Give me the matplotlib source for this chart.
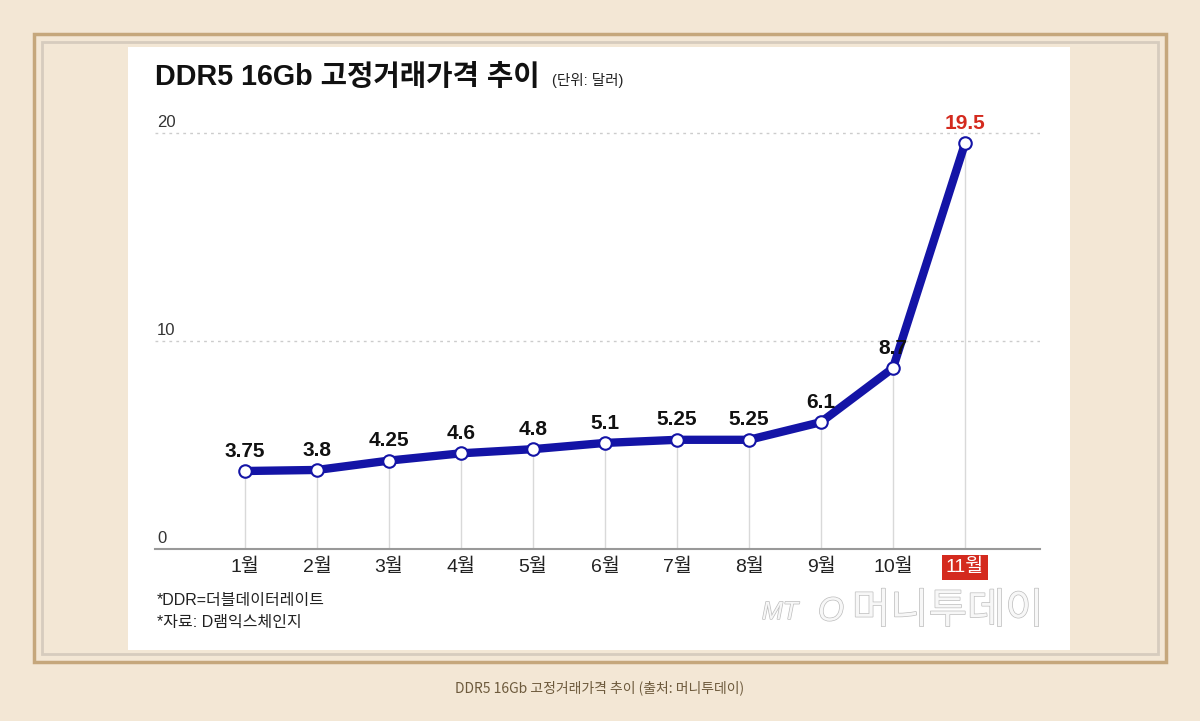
import matplotlib
matplotlib.use('Agg')
import matplotlib.pyplot as plt
import matplotlib.patheffects as pe
from matplotlib.patches import Rectangle

plt.rcParams['font.family'] = ['Liberation Sans', 'Noto Sans CJK KR', 'DejaVu Sans']

#------------------------------------------------------------------------------
# data

months = ['1월', '2월', '3월', '4월', '5월', '6월', '7월', '8월', '9월', '10월', '11월']
prices = [3.75, 3.8, 4.25, 4.6, 4.8, 5.1, 5.25, 5.25, 6.1, 8.7, 19.5]
price_labels = ['3.75', '3.8', '4.25', '4.6', '4.8', '5.1', '5.25', '5.25', '6.1', '8.7', '19.5']
yticks = [0, 10, 20]

#------------------------------------------------------------------------------
# figure and frame

W, H = 1200, 721
bg = '#f3e7d5'
fig = plt.figure(figsize=(W / 100, H / 100), dpi=100, facecolor=bg)

def px(x, y, w, h):
    # pixel box (top-left origin) -> figure coords
    return [x / W, 1 - (y + h) / H, w / W, h / H]

frame = fig.add_axes([0, 0, 1, 1])
frame.set_xlim(0, W)
frame.set_ylim(H, 0)
frame.axis('off')
frame.add_patch(Rectangle((34, 34), 1132, 628, fill=False, ec='#c5a77c', lw=2.5))
frame.add_patch(Rectangle((42, 42), 1116, 612, fill=False, ec='#d6ccbe', lw=2))
frame.add_patch(Rectangle((128, 47), 942, 603, fc='white', ec='none'))

# title and notes
frame.text(155, 77, 'DDR5 16Gb 고정거래가격 추이', fontsize=20.7, fontweight='bold',
           va='center', ha='left', color='#111111')
frame.text(552, 80, '(단위: 달러)', fontsize=10.5, va='center', ha='left', color='#222222')
frame.text(157, 601, '*DDR=더블데이터레이트', fontsize=11.5, va='center', ha='left', color='#222222')
frame.text(157, 623, '*자료: D램익스체인지', fontsize=11.5, va='center', ha='left', color='#222222')

# watermark
wm = dict(color='#f7f7f7', va='center',
          path_effects=[pe.withStroke(linewidth=1.0, foreground='#bdbdbd')])
frame.text(762, 612, 'MT', fontsize=18, style='italic', ha='left', **wm)
frame.text(818, 612, 'O', fontsize=24, style='italic', ha='left', **wm)
frame.text(852, 612, '머니투데이', fontsize=30, ha='left', **wm)

# caption
frame.text(600, 688, 'DDR5 16Gb 고정거래가격 추이 (출처: 머니투데이)', fontsize=10,
           ha='center', va='center', color='#6d5a3c',
           family=['Noto Sans CJK KR', 'DejaVu Sans'])

#------------------------------------------------------------------------------
# chart

x0, x1 = 155, 1040      # axis extent in px
y_zero, y_top = 549, 112
ax = fig.add_axes(px(x0, y_top, x1 - x0, y_zero - y_top))
ax.set_facecolor('none')
xs = list(range(1, len(months) + 1))
ax.set_xlim(1 - 90 / 72, 11 + 75 / 72)
ax.set_ylim(0, (y_zero - y_top) / 20.8)

for s in ['top', 'right', 'left']:
    ax.spines[s].set_visible(False)
ax.spines['bottom'].set_color('#999999')
ax.spines['bottom'].set_linewidth(1.5)

for t in yticks[1:]:
    ax.axhline(t, color='#cccccc', lw=1, ls=(0, (2, 3)), zorder=1)
for t in yticks:
    ax.text(ax.get_xlim()[0] + 0.03, t + 0.15, str(t), fontsize=12, color='#333333',
            ha='left', va='bottom')

for x, v in zip(xs, prices):
    ax.plot([x, x], [0, v], color='#d9d9d9', lw=1, zorder=1)

ax.plot(xs, prices, color='#1414a6', lw=6, solid_capstyle='round', zorder=3)
ax.plot(xs, prices, 'o', ms=9, mfc='white', mec='#1414a6', mew=1.5, zorder=4)

for x, v, lab in zip(xs, prices, price_labels):
    color = '#d42a1e' if x == 11 else '#111111'
    ax.text(x, v + 0.5, lab, fontsize=15, fontweight='bold', color=color,
            ha='center', va='bottom', zorder=5)

ax.set_xticks(xs)
ax.set_xticklabels(months, fontsize=14, color='#222222')
ax.tick_params(axis='x', length=0, pad=7)
ax.set_yticks([])
last = ax.get_xticklabels()[-1]
last.set_color('white')
last.set_bbox(dict(boxstyle='square,pad=0.2', fc='#d42a1e', ec='none'))

fig.savefig('out.png', dpi=100, facecolor=bg)
